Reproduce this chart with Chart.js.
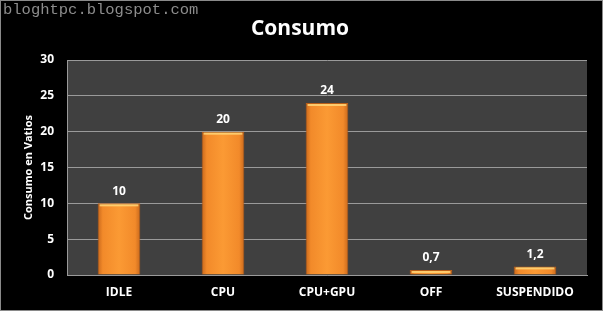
<!DOCTYPE html>
<html>
<head>
<meta charset="utf-8">
<script src="https://cdn.jsdelivr.net/npm/chart.js@4.4.0/dist/chart.umd.min.js"></script>
<style>
  html, body { margin: 0; padding: 0; background: #000; }
  #wrap { width: 603px; height: 311px; }
</style>
</head>
<body>
<div id="wrap"><canvas id="chart" width="603" height="311"></canvas></div>
<script>
// data
const categories = ["IDLE", "CPU", "CPU+GPU", "OFF", "SUSPENDIDO"];
const consumo = [10, 20, 24, 0.7, 1.2];
const yTicks = [0, 5, 10, 15, 20, 25, 30];

const FONT = "'Open Sans', 'Liberation Sans', sans-serif";
const BAR_PCT = 0.41;

// background, frame, title, watermark, axis title and value labels
const decorPlugin = {
  id: "decor",
  beforeDraw(chart) {
    const { ctx, chartArea: a } = chart;
    ctx.save();
    ctx.fillStyle = "#000";
    ctx.fillRect(0, 0, chart.width, chart.height);
    ctx.fillStyle = "#404040";
    ctx.fillRect(a.left, a.top, a.right - a.left, a.bottom - a.top);
    ctx.restore();
  },
  afterDatasetsDraw(chart) {
    // light bevel along the top of each bar
    const { ctx } = chart;
    ctx.save();
    chart.getDatasetMeta(0).data.forEach(bar => {
      const half = bar.width / 2;
      ctx.fillStyle = "rgba(255, 214, 120, 0.85)";
      ctx.fillRect(bar.x - half + 2, bar.y + 1, bar.width - 4, 2);
    });
    ctx.restore();
  },
  afterDraw(chart) {
    const { ctx, chartArea: a } = chart;
    ctx.save();
    // outer frame
    ctx.strokeStyle = "#8a8a8a";
    ctx.lineWidth = 1;
    ctx.strokeRect(0.5, 0.5, chart.width - 1, chart.height - 1);

    // watermark
    ctx.fillStyle = "#8c8c8c";
    ctx.font = "15.5px 'Liberation Mono', 'DejaVu Sans Mono', monospace";
    ctx.textAlign = "left";
    ctx.textBaseline = "middle";
    ctx.fillText("bloghtpc.blogspot.com", 3, 10);

    // title
    ctx.fillStyle = "#fff";
    ctx.font = "bold 21px " + FONT;
    ctx.textAlign = "center";
    ctx.fillText("Consumo", 300, 29);

    // y axis title
    ctx.font = "bold 11px " + FONT;
    ctx.translate(29, (a.top + a.bottom) / 2);
    ctx.rotate(-Math.PI / 2);
    ctx.fillText("Consumo en Vatios", 0, 0);
    ctx.restore();

    // value labels
    ctx.save();
    ctx.fillStyle = "#fff";
    ctx.font = "bold 12px " + FONT;
    ctx.textAlign = "center";
    ctx.textBaseline = "bottom";
    const meta = chart.getDatasetMeta(0);
    meta.data.forEach((bar, i) => {
      const txt = String(consumo[i]).replace(".", ",");
      ctx.fillText(txt, bar.x, bar.y - 6);
    });
    ctx.restore();
  }
};

function barFill(context) {
  const chart = context.chart;
  const xs = chart.scales && chart.scales.x;
  if (!chart.chartArea || !xs) return "#f7962d";
  const cx = xs.getPixelForValue(context.dataIndex);
  const half = (xs.width / categories.length) * BAR_PCT / 2;
  if (!Number.isFinite(cx) || !Number.isFinite(half)) return "#f7962d";
  const g = chart.ctx.createLinearGradient(cx - half, 0, cx + half, 0);
  g.addColorStop(0, "#c8681c");
  g.addColorStop(0.12, "#f28a2a");
  g.addColorStop(0.5, "#fb9a34");
  g.addColorStop(0.88, "#f28a2a");
  g.addColorStop(1, "#c8681c");
  return g;
}

new Chart(document.getElementById("chart"), {
  type: "bar",
  data: {
    labels: categories,
    datasets: [{
      label: "Consumo",
      data: consumo,
      backgroundColor: barFill,
      borderColor: "#b85e18",
      borderWidth: { top: 1, left: 1, right: 1, bottom: 0 },
      borderSkipped: "bottom",
      categoryPercentage: 1,
      barPercentage: BAR_PCT
    }]
  },
  options: {
    responsive: false,
    animation: false,
    devicePixelRatio: 1,
    layout: { padding: { left: 0, right: 16, top: 60, bottom: 0 } },
    plugins: {
      legend: { display: false },
      title: { display: false },
      tooltip: { enabled: false }
    },
    scales: {
      x: {
        grid: { display: false, drawTicks: false },
        border: { display: true, color: "#9a9a9a", width: 1 },
        ticks: {
          color: "#fff",
          font: { family: FONT, size: 12, weight: "bold" },
          padding: 10
        },
        afterFit(scale) { scale.height = 36; }
      },
      y: {
        min: 0,
        max: 30,
        afterBuildTicks(scale) { scale.ticks = yTicks.map(v => ({ value: v })); },
        grid: { color: "#9a9a9a", lineWidth: 1, drawTicks: false },
        border: { display: true, color: "#9a9a9a", width: 1 },
        ticks: {
          color: "#fff",
          font: { family: FONT, size: 12, weight: "bold" },
          padding: 13
        },
        afterFit(scale) { scale.width = 67; }
      }
    }
  },
  plugins: [decorPlugin]
});
</script>
</body>
</html>
